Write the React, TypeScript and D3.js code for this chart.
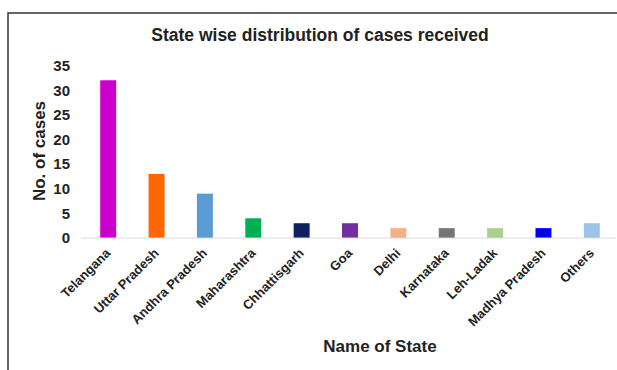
import React from 'react';
import * as d3 from 'd3';

const states = [
  'Telangana', 'Uttar Pradesh', 'Andhra Pradesh', 'Maharashtra', 'Chhattisgarh',
  'Goa', 'Delhi', 'Karnataka', 'Leh-Ladak', 'Madhya Pradesh', 'Others',
];
const cases = [32, 13, 9, 4, 3, 3, 2, 2, 2, 2, 3];
const barColors = [
  '#cc00cc', '#ff6600', '#5b9bd5', '#00b050', '#0e2060',
  '#7030a0', '#f4b183', '#767676', '#a9d18e', '#0000f0', '#9dc3e6',
];
const yTicks = [0, 5, 10, 15, 20, 25, 30, 35];

const width = 617;
const height = 370;
const font = 'Liberation Sans, Arial, sans-serif';
const ink = '#222';

const App: React.FC = () => {
  const x = d3.scaleBand<string>()
    .domain(states)
    .range([84, 616])
    .paddingInner(0.67)
    .paddingOuter(0.335);

  const y = d3.scaleLinear()
    .domain([0, 35])
    .range([238, 65.5]);

  return (
    <svg width={width} height={height} style={{ position: 'absolute', left: 0, top: 0 }}>
      <rect width={width} height={height} fill="#fff" />
      {/* frame: only top and left edges visible in the original */}
      <path d={`M8,${height} V13 H${width}`} fill="none" stroke="#333" strokeWidth={1.5} />

      <text x={320} y={41} textAnchor="middle" fontFamily={font} fontWeight="bold"
        fontSize={17.5} fill={ink}>
        State wise distribution of cases received
      </text>

      {yTicks.map(t => (
        <text key={t} x={70} y={y(t)} dy="0.36em" textAnchor="end" fontFamily={font}
          fontWeight="bold" fontSize={15} fill={ink}>
          {t}
        </text>
      ))}

      <text transform="translate(45,151) rotate(-90)" textAnchor="middle" fontFamily={font}
        fontWeight="bold" fontSize={17} fill={ink}>
        No. of cases
      </text>

      {states.map((s, i) => (
        <rect key={s} x={x(s)} y={y(cases[i])} width={x.bandwidth()}
          height={y(0) - y(cases[i])} fill={barColors[i]} />
      ))}

      <line x1={82} x2={616} y1={y(0)} y2={y(0)} stroke="#d9d9d9" strokeWidth={1} />

      {states.map(s => {
        const cx = (x(s) as number) + x.bandwidth() / 2;
        return (
          <text key={s} transform={`translate(${cx + 3},254) rotate(-45)`} textAnchor="end"
            fontFamily={font} fontWeight="bold" fontSize={13} fill={ink}>
            {s}
          </text>
        );
      })}

      <text x={380} y={352} textAnchor="middle" fontFamily={font} fontWeight="bold"
        fontSize={17} fill={ink}>
        Name of State
      </text>
    </svg>
  );
};

export default App;
